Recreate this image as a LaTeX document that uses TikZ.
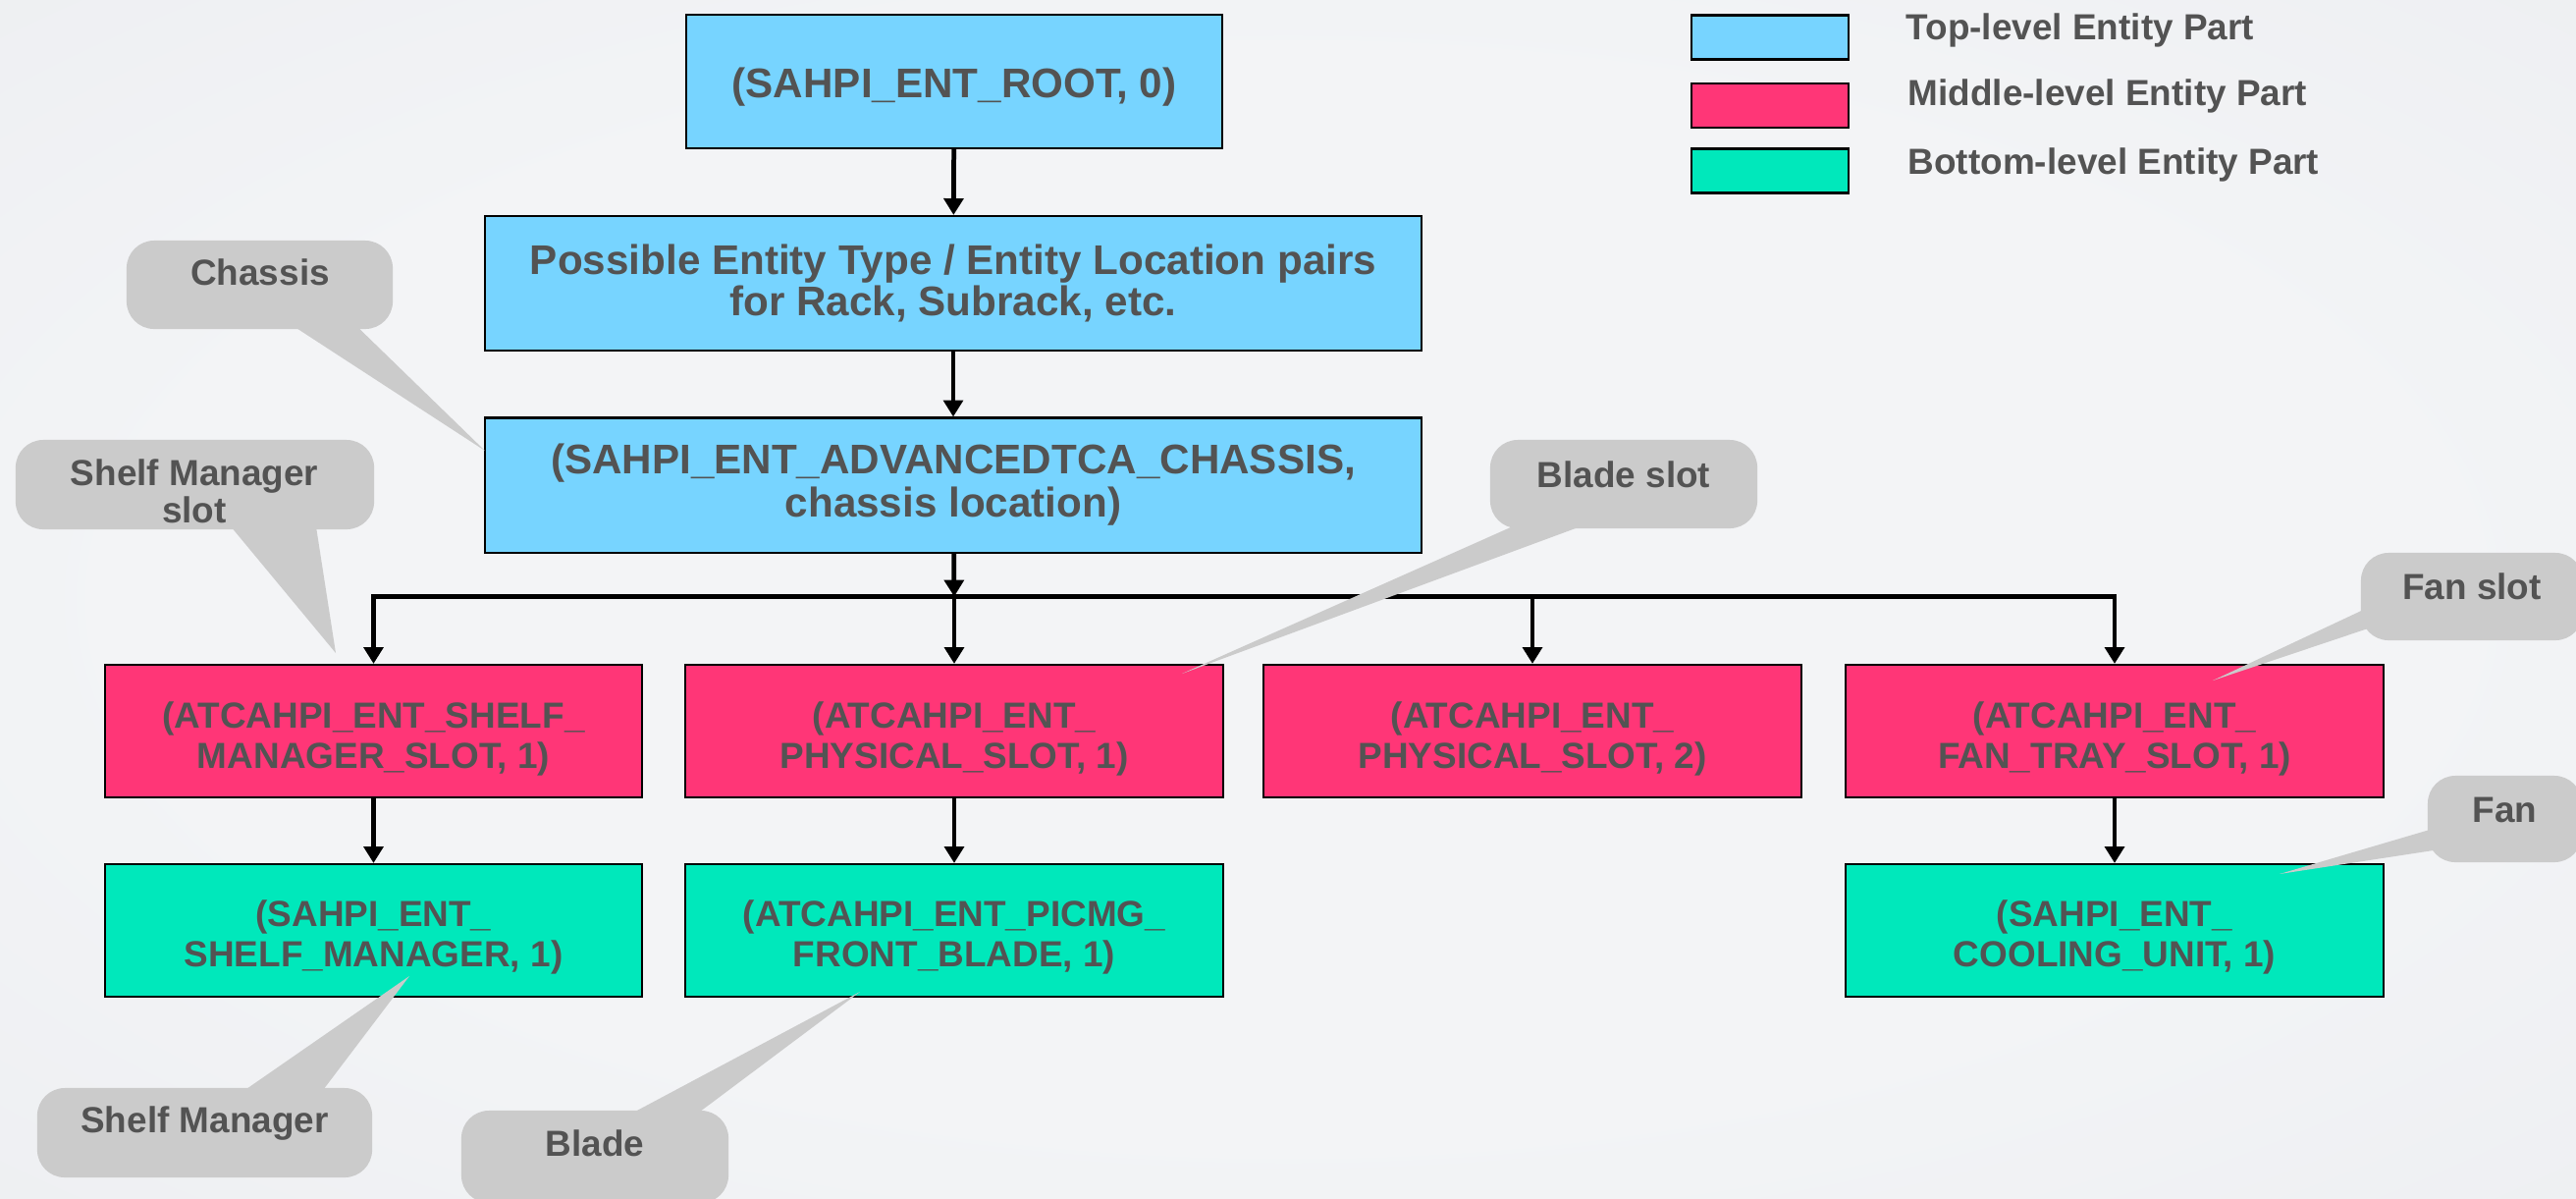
\documentclass[tikz,border=0pt]{standalone}
\usepackage{fontspec}
\setmainfont{Liberation Sans}
\usetikzlibrary{arrows.meta}

\definecolor{topc}{HTML}{77D4FF}
\definecolor{midc}{HTML}{FF3677}
\definecolor{botc}{HTML}{00E8BB}
\definecolor{inkc}{HTML}{535353}
\definecolor{bubc}{HTML}{CBCBCB}
\definecolor{bgin}{HTML}{F3F4F6}
\definecolor{bgout}{HTML}{E1E4E8}

\pgfdeclareradialshading{pagebg}{\pgfpoint{0bp}{0bp}}{%
  color(0bp)=(bgin); color(22bp)=(bgin); color(71bp)=(bgout)}

% invisible strut that sets box text a little below the box centre
\newcommand{\dropstrut}[1]{\rule{0pt}{#1}}

\begin{document}
\begin{tikzpicture}[x=0.01cm, y=-0.01cm,
  ent/.style={draw=black, line width=0.6pt, text=inkc, align=center, inner sep=0pt},
  topbox/.style={ent, fill=topc, font=\bfseries\fontsize{12}{12.5}\selectfont},
  midbox/.style={ent, fill=midc, minimum width=5.47cm, minimum height=1.35cm,
    font=\bfseries\fontsize{10.5}{11.6}\selectfont},
  botbox/.style={midbox, fill=botc},
  arr/.style={draw=black, line width=1.35pt, -{Triangle[length=4.8pt, width=5.6pt]}},
  busline/.style={draw=black, line width=1.6pt},
  legbox/.style={draw=black, line width=0.6pt, minimum width=1.6cm, minimum height=0.45cm, inner sep=0pt},
  legtext/.style={text=inkc, font=\bfseries\fontsize{10.5}{12}\selectfont, inner sep=0pt, anchor=base west},
  bubble/.style={fill=bubc, rounded corners=8pt, inner sep=0pt},
  wedge/.style={fill=bubc},
  bubtext/.style={text=inkc, font=\bfseries\fontsize{10.5}{9.8}\selectfont, align=center, inner sep=0pt}
]

% page background
\useasboundingbox (0,0) rectangle (2624,1220);
\shade[shading=pagebg] (0,0) rectangle (2624,1220);

% top-level entity parts
\node[topbox, minimum width=5.46cm, minimum height=1.36cm] (root) at (972,83)
  {\dropstrut{12pt}(SAHPI\_ENT\_ROOT, 0)};
\node[topbox, minimum width=9.54cm, minimum height=1.37cm,
      font=\bfseries\fontsize{12}{10.4}\selectfont] (pairs) at (971,288.5)
  {Possible Entity Type / Entity Location pairs\\for Rack, Subrack, etc.};
\node[topbox, minimum width=9.54cm, minimum height=1.37cm,
      font=\bfseries\fontsize{12}{12.5}\selectfont] (chassis) at (971,494)
  {(SAHPI\_ENT\_ADVANCEDTCA\_CHASSIS,\\chassis location)};

% middle-level entity parts
\node[midbox] (m1) at (380.5,744.5) {\dropstrut{12.3pt}(ATCAHPI\_ENT\_SHELF\_\\MANAGER\_SLOT, 1)};
\node[midbox] (m2) at (972,744.5) {\dropstrut{12.3pt}(ATCAHPI\_ENT\_\\PHYSICAL\_SLOT, 1)};
\node[midbox] (m3) at (1561,744.5) {\dropstrut{12.3pt}(ATCAHPI\_ENT\_\\PHYSICAL\_SLOT, 2)};
\node[midbox] (m4) at (2154,744.5) {\dropstrut{12.3pt}(ATCAHPI\_ENT\_\\FAN\_TRAY\_SLOT, 1)};

% bottom-level entity parts
\node[botbox] (b1) at (380.5,947.5) {\dropstrut{11.4pt}(SAHPI\_ENT\_\\SHELF\_MANAGER, 1)};
\node[botbox] (b2) at (972,947.5) {\dropstrut{11.4pt}(ATCAHPI\_ENT\_PICMG\_\\FRONT\_BLADE, 1)};
\node[botbox] (b4) at (2154,947.5) {\dropstrut{11.4pt}(SAHPI\_ENT\_\\COOLING\_UNIT, 1)};

% containment arrows
\coordinate (bus) at (972,607.5);
\draw[busline] (m1.north |- bus) -- (m4.north |- bus);
\draw[arr] (root) -- (pairs);
\draw[arr] (pairs) -- (chassis);
\draw[arr] (chassis) -- (bus);
\draw[arr] (bus) -| (m1.north);
\draw[arr] (bus) -| (m4.north);
\draw[arr] (bus) -- (m2.north);
\draw[arr] (m3.north |- bus) -- (m3.north);
\draw[arr] (m1) -- (b1);
\draw[arr] (m2) -- (b2);
\draw[arr] (m4) -- (b4);

% legend
\node[legbox, fill=topc] (lg1) at (1803,38) {};
\node[legbox, fill=midc] (lg2) at (1803,107.5) {};
\node[legbox, fill=botc] (lg3) at (1803,174) {};
\node[legtext] (lt1) at (1941,40) {Top-level Entity Part};
\node[legtext] (lt2) at (1943,107) {Middle-level Entity Part};
\node[legtext] (lt3) at (1943,177) {Bottom-level Entity Part};

% callouts
\fill[wedge] (288,325) -- (356,325) -- (494,459) -- cycle;
\node[bubble, minimum width=2.71cm, minimum height=0.9cm] (c1) at (264.5,290) {};
\node[bubtext] (t1) at (265,277) {Chassis};

\fill[wedge] (230,530) -- (321,530) -- (342,665) -- cycle;
\node[bubble, minimum width=3.65cm, minimum height=0.91cm] (c2) at (198.5,493.5) {};
\node[bubtext] (t2) at (198,500) {Shelf Manager\\slot};

\fill[wedge] (1559,528) -- (1632,528) -- (1204,686) -- cycle;
\node[bubble, minimum width=2.72cm, minimum height=0.9cm] (c3) at (1654,493) {};
\node[bubtext] (t3) at (1654,483) {Blade slot};

\fill[wedge] (2418,616) -- (2418,638) -- (2254,693) -- cycle;
\node[bubble, minimum width=2.26cm, minimum height=0.89cm] (c4) at (2518,607.5) {};
\node[bubtext] (t4) at (2518,597) {Fan slot};

\fill[wedge] (2485,842) -- (2485,865) -- (2322,890) -- cycle;
\node[bubble, minimum width=1.57cm, minimum height=0.88cm] (c5) at (2551.5,834) {};
\node[bubtext] (t5) at (2551.5,825) {Fan};

\fill[wedge] (238,1118) -- (323,1118) -- (417,994) -- cycle;
\node[bubble, minimum width=3.41cm, minimum height=0.91cm] (c6) at (208.5,1153.5) {};
\node[bubtext] (t6) at (208.5,1144) {Shelf Manager};

\fill[wedge] (630,1141) -- (701,1141) -- (876,1010) -- cycle;
\node[bubble, minimum width=2.72cm, minimum height=0.94cm] (c7) at (606,1178) {};
\node[bubtext] (t7) at (606,1164) {Blade};

\end{tikzpicture}
\end{document}
